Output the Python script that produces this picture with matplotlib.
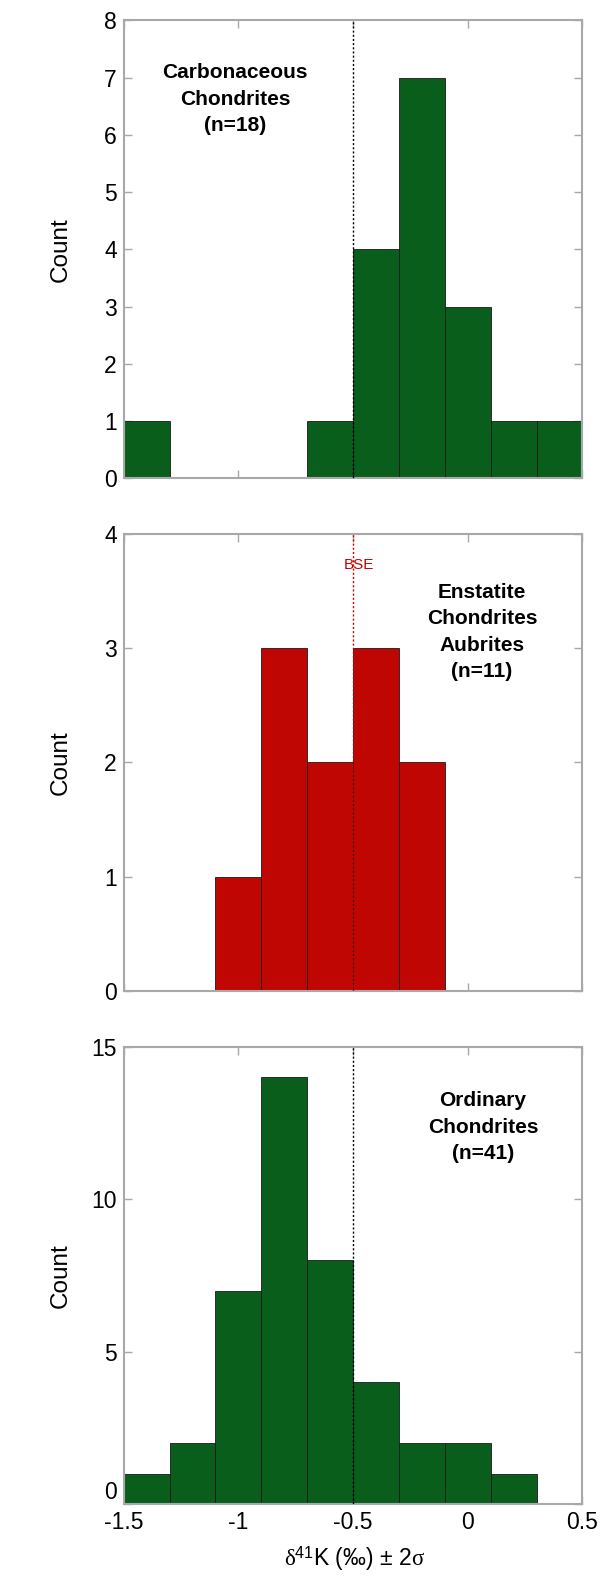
import numpy as np
import matplotlib
matplotlib.use("Agg")
from matplotlib import pyplot as plt
import matplotlib.transforms as mtransforms

plt.rcParams['font.family'] = ['Liberation Sans', 'DejaVu Sans']
plt.rcParams['mathtext.fontset'] = 'custom'
plt.rcParams['mathtext.rm'] = 'Liberation Serif'
plt.rcParams['mathtext.it'] = 'Liberation Serif'
plt.rcParams['mathtext.sf'] = 'Liberation Sans'

# histogram bins (delta 41K, permil), width 0.2
binEdges = [-1.5, -1.3, -1.1, -0.9, -0.7, -0.5, -0.3, -0.1, 0.1, 0.3, 0.5]
carbCounts = [1, 0, 0, 0, 1, 4, 7, 3, 1, 1]
enstCounts = [0, 0, 1, 3, 2, 3, 2, 0, 0, 0]
ordCounts = [1, 2, 7, 14, 8, 4, 2, 2, 1, 0]

bseValue = -0.5
xTicks = [-1.5, -1, -0.5, 0, 0.5]
xTickLabels = ['-1.5', '-1', '-0.5', '0', '0.5']

green = '#0a5e1c'
red = '#c00603'
grey = '#a8a8a8'

fig = plt.figure(figsize=(6.03, 15.89), dpi=100)

left, width = 0.205, 0.761
panels = [
    # bottom, height, counts, colour, ymax, yticks, label, label pos, line colour
    (0.699, 0.2882, carbCounts, green, 8, range(0, 9),
     'Carbonaceous\nChondrites\n(n=18)', (-1.015, 6.62), 'black'),
    (0.3763, 0.2877, enstCounts, red, 4, range(0, 5),
     'Enstatite\nChondrites\nAubrites\n(n=11)', (0.062, 3.14), red),
    (0.0535, 0.2876, ordCounts, green, 15, [0, 5, 10, 15],
     'Ordinary\nChondrites\n(n=41)', (0.066, 12.36), 'black'),
]

widths = np.diff(binEdges)
for i, (bot, h, counts, col, ymax, yt, lab, pos, lcol) in enumerate(panels):
    ax = fig.add_axes([left, bot, width, h])
    ax.bar(binEdges[:-1], counts, width=widths, align='edge', color=col,
           edgecolor='#1a1a1a', linewidth=0.6, zorder=2)
    ax.axvline(bseValue, color=lcol, linestyle=(0, (1.5, 1.5)), linewidth=1.0, zorder=3)
    ax.set_xlim(-1.5, 0.5)
    ax.set_ylim(0, ymax)
    ax.set_yticks(list(yt))
    ax.set_xticks(xTicks)
    if i == 2:
        ax.set_xticklabels(xTickLabels)
        ax.set_xlabel(r'$\mathrm{\delta}^{\mathsf{41}}$K (‰) ± 2$\mathrm{\sigma}$', fontsize=16.5)
        ax.xaxis.set_label_coords(0.503, -0.088)
    else:
        ax.set_xticklabels([])
    ax.tick_params(direction='in', length=6, width=1.0, color=grey,
                   top=True, right=True, labelsize=16.5, pad=5)
    for s in ax.spines.values():
        s.set_color(grey)
        s.set_linewidth(1.5)
    ax.set_ylabel('Count', fontsize=17.5)
    ax.yaxis.set_label_coords(-0.113, 0.5)
    ax.text(pos[0], pos[1], lab, ha='center', va='center', fontsize=15,
            fontweight='bold', linespacing=1.5, zorder=4)
    if i == 1:
        ax.text(-0.473, 3.73, 'BSE', color=red, fontsize=11, ha='center', va='center', zorder=4)
    if i == 2:
        # lift the zero label clear of the x tick labels
        lbl0 = ax.get_yticklabels()[0]
        lbl0.set_transform(lbl0.get_transform() +
                           mtransforms.ScaledTranslation(0, 10 / 72, fig.dpi_scale_trans))

fig.savefig('out.png', dpi=100)
